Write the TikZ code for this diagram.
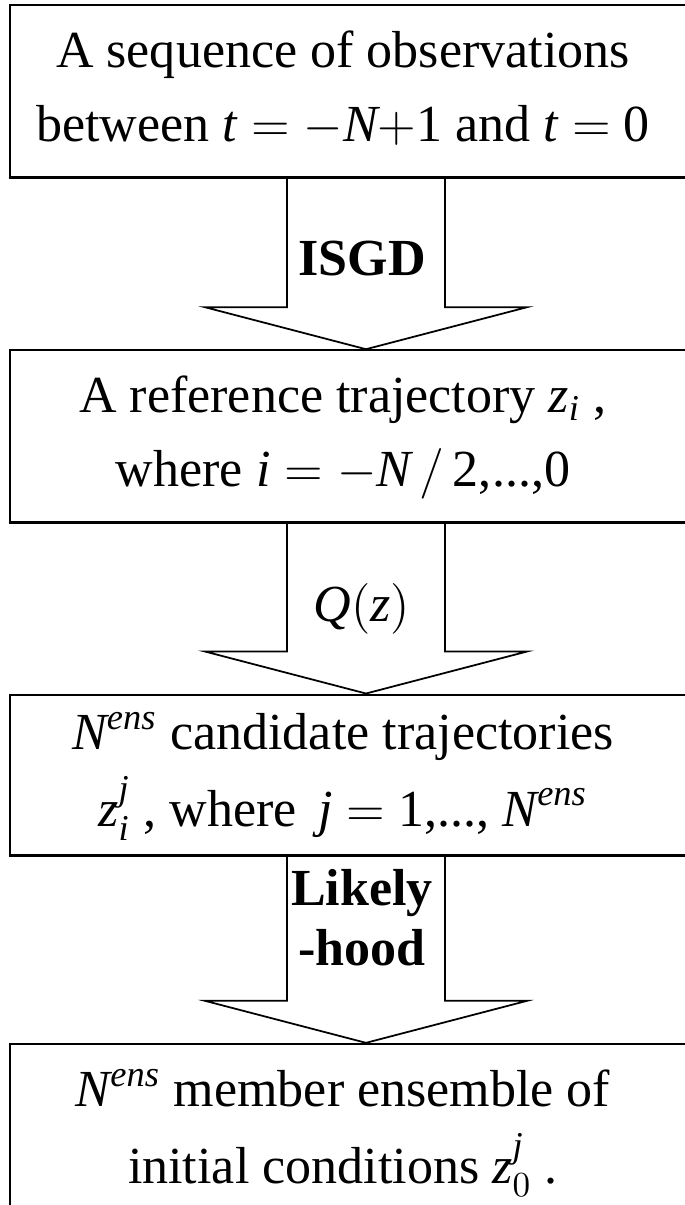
\documentclass[tikz,border=0pt]{standalone}
\usepackage{amsmath}
\usepackage{fontspec}
\setmainfont{Liberation Serif}
\usetikzlibrary{calc,positioning}
\newcommand{\mv}[1]{\textit{#1}}
% two centred lines, sitting a little left of the box centre
\newcommand{\twoline}[2]{\begin{tabular}{@{}c@{\hspace{0.46cm}}}#1\\[2pt]#2\end{tabular}}

\begin{document}
\begin{tikzpicture}[
  x=0.01cm, y=-0.01cm,
  node distance=1.71cm,
  every node/.style={align=center,font=\fontsize{14.8}{19}\selectfont},
  box/.style={draw,line width=0.6pt,rectangle,minimum width=7.12cm,inner sep=0pt,fill=white},
  lbl/.style={inner sep=0pt,font=\fontsize{14.8}{17}\selectfont\bfseries},
  blockarrow/.style={draw,line width=0.5pt,fill=white}
]
\useasboundingbox (0,0) rectangle (685,1205);
\node[box,minimum height=1.72cm] (obs) at (366,91)
  {\twoline{A sequence of observations}{between $\mv{t}=-\mv{N}{+}$1 and $\mv{t}=$ 0}};
\node[box,minimum height=1.72cm,below=of obs] (ref)
  {\twoline{A reference trajectory $\mv{z}_{\mv{i}}$ ,}{where $\mv{i}=-\mv{N}\,/\,$2,...,0}};
\node[box,minimum height=1.60cm,below=1.70cm of ref] (cand)
  {\twoline{$\mv{N}^{\mv{ens}}$ candidate trajectories}{$\mv{z}_{\mv{i}}^{\mv{j}}$ , where \,$\mv{j}=$ 1,..., $\mv{N}^{\mv{ens}}$}};
\node[box,minimum height=1.75cm,below=1.87cm of cand] (ens)
  {\twoline{$\mv{N}^{\mv{ens}}$ member ensemble of}{initial conditions $\mv{z}_0^{\mv{j}}$ .}};

% block arrows between the boxes
\foreach \a/\b in {obs/ref,ref/cand,cand/ens}{
  \draw[blockarrow] ($(\a.south)+(-79,0)$) -- ($(\b.north)+(-79,-42)$) -- ($(\b.north)+(-161,-42)$)
    -- (\b.north) -- ($(\b.north)+(161,-42)$) -- ($(\b.north)+(79,-42)$) -- ($(\a.south)+(79,0)$);
}
\draw[line width=0.6pt] (obs.south west) -- (obs.south east);
\draw[line width=0.6pt] (ref.south west) -- (ref.south east);
\draw[line width=0.6pt] (cand.south west) -- (cand.south east);

\node[lbl] (isgd) at ($(obs.south)+(-4,80)$) {ISGD};
\node[lbl,font=\fontsize{14.8}{17}\selectfont] (qz) at ($(ref.south)+(-4,85)$) {$\mv{Q}(\mv{z})$};
\node[lbl] (lik) at ($(cand.south)+(-4,62)$) {Likely\\-hood};
\end{tikzpicture}
\end{document}
